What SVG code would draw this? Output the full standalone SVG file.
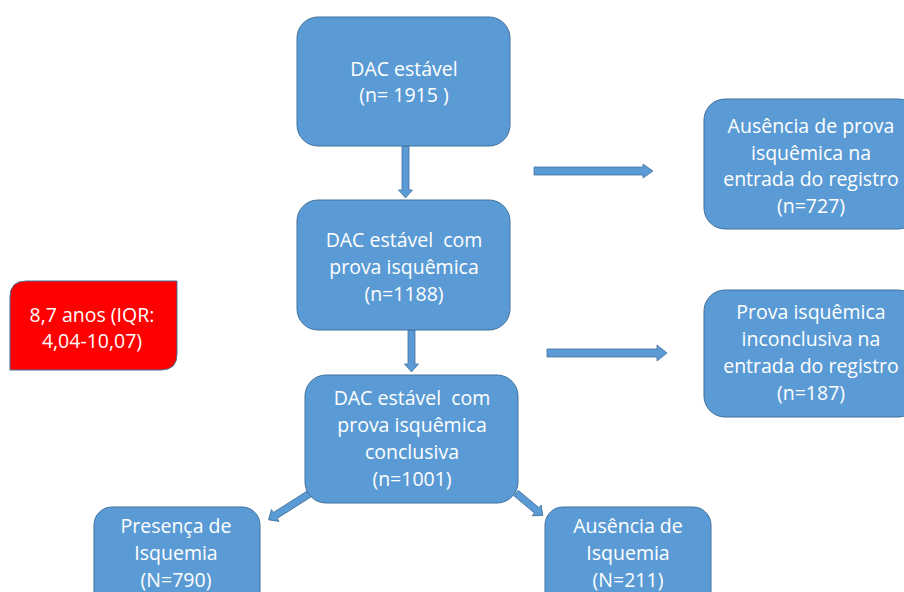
<svg xmlns="http://www.w3.org/2000/svg" width="904" height="592" viewBox="0 0 904 592">
<style>
.box{fill:#5B9BD5;stroke:#41719C;stroke-width:1}
.red{fill:#FF0000;stroke:#41719C;stroke-width:1}
.arr{fill:#5B9BD5;stroke:#41719C;stroke-width:0.8}
text{font-family:"Open Sans","Liberation Sans",Arial,sans-serif;font-size:19.5px;fill:#FFFFFF;text-anchor:middle}
</style>
<rect width="904" height="592" fill="#FFFFFF"/>
<g id="connectors">
<polygon class="arr" points="402,146 409,146 409,190 412.5,190 405.5,198 398.5,190 402,190"/>
<polygon class="arr" points="408,330 415,330 415,364 418.5,364 411.5,372 404.5,364 408,364"/>
<polygon class="arr" points="534,167 643,167 643,164 653,171 643,178 643,175 534,175"/>
<polygon class="arr" points="547,349 657,349 657,345 667,353 657,361 657,357 547,357"/>
<polygon class="arr" transform="rotate(147.5 309 494)" points="309,490.5 349,490.5 349,487 357,494 349,501 349,497.5 309,497.5"/>
<polygon class="arr" transform="rotate(40 516 493)" points="516,489.5 543,489.5 543,486 551,493 543,500 543,496.5 516,496.5"/>
</g>
<g id="n1">
<rect class="box" x="297" y="17" width="213" height="129" rx="21"/>
<text x="404" y="76">DAC estável</text>
<text x="404" y="102">(n= 1915 )</text>
</g>
<g id="n2">
<rect class="box" x="297" y="200" width="213" height="130" rx="21"/>
<text x="404" y="247" xml:space="preserve">DAC estável  com</text>
<text x="404" y="274">prova isquêmica</text>
<text x="404" y="301">(n=1188)</text>
</g>
<g id="n3">
<rect class="box" x="305" y="375" width="213" height="128" rx="21"/>
<text x="412" y="405" xml:space="preserve">DAC estável  com</text>
<text x="412" y="432">prova isquêmica</text>
<text x="412" y="459">conclusiva</text>
<text x="412" y="486">(n=1001)</text>
</g>
<g id="n4">
<rect class="box" x="704" y="99" width="215" height="130" rx="21"/>
<text x="811" y="133">Ausência de prova</text>
<text x="811" y="160">isquêmica na</text>
<text x="811" y="186">entrada do registro</text>
<text x="811" y="213">(n=727)</text>
</g>
<g id="n5">
<rect class="box" x="704" y="290" width="215" height="127" rx="21"/>
<text x="811" y="319">Prova isquêmica</text>
<text x="811" y="346">inconclusiva na</text>
<text x="811" y="373">entrada do registro</text>
<text x="811" y="400">(n=187)</text>
</g>
<g id="n6">
<path class="red" d="M26,281 L177,281 L177,354 Q177,370 161,370 L10,370 L10,297 Q10,281 26,281 Z"/>
<text x="92" y="322">8,7 anos (IQR:</text>
<text x="92" y="348">4,04-10,07)</text>
</g>
<g id="n7">
<rect class="box" x="94" y="507" width="166" height="110" rx="18"/>
<text x="176" y="533">Presença de</text>
<text x="176" y="560">Isquemia</text>
<text x="176" y="587">(N=790)</text>
</g>
<g id="n8">
<rect class="box" x="545" y="507" width="166" height="110" rx="18"/>
<text x="628" y="533">Ausência de</text>
<text x="628" y="560">Isquemia</text>
<text x="628" y="587">(N=211)</text>
</g>
</svg>
